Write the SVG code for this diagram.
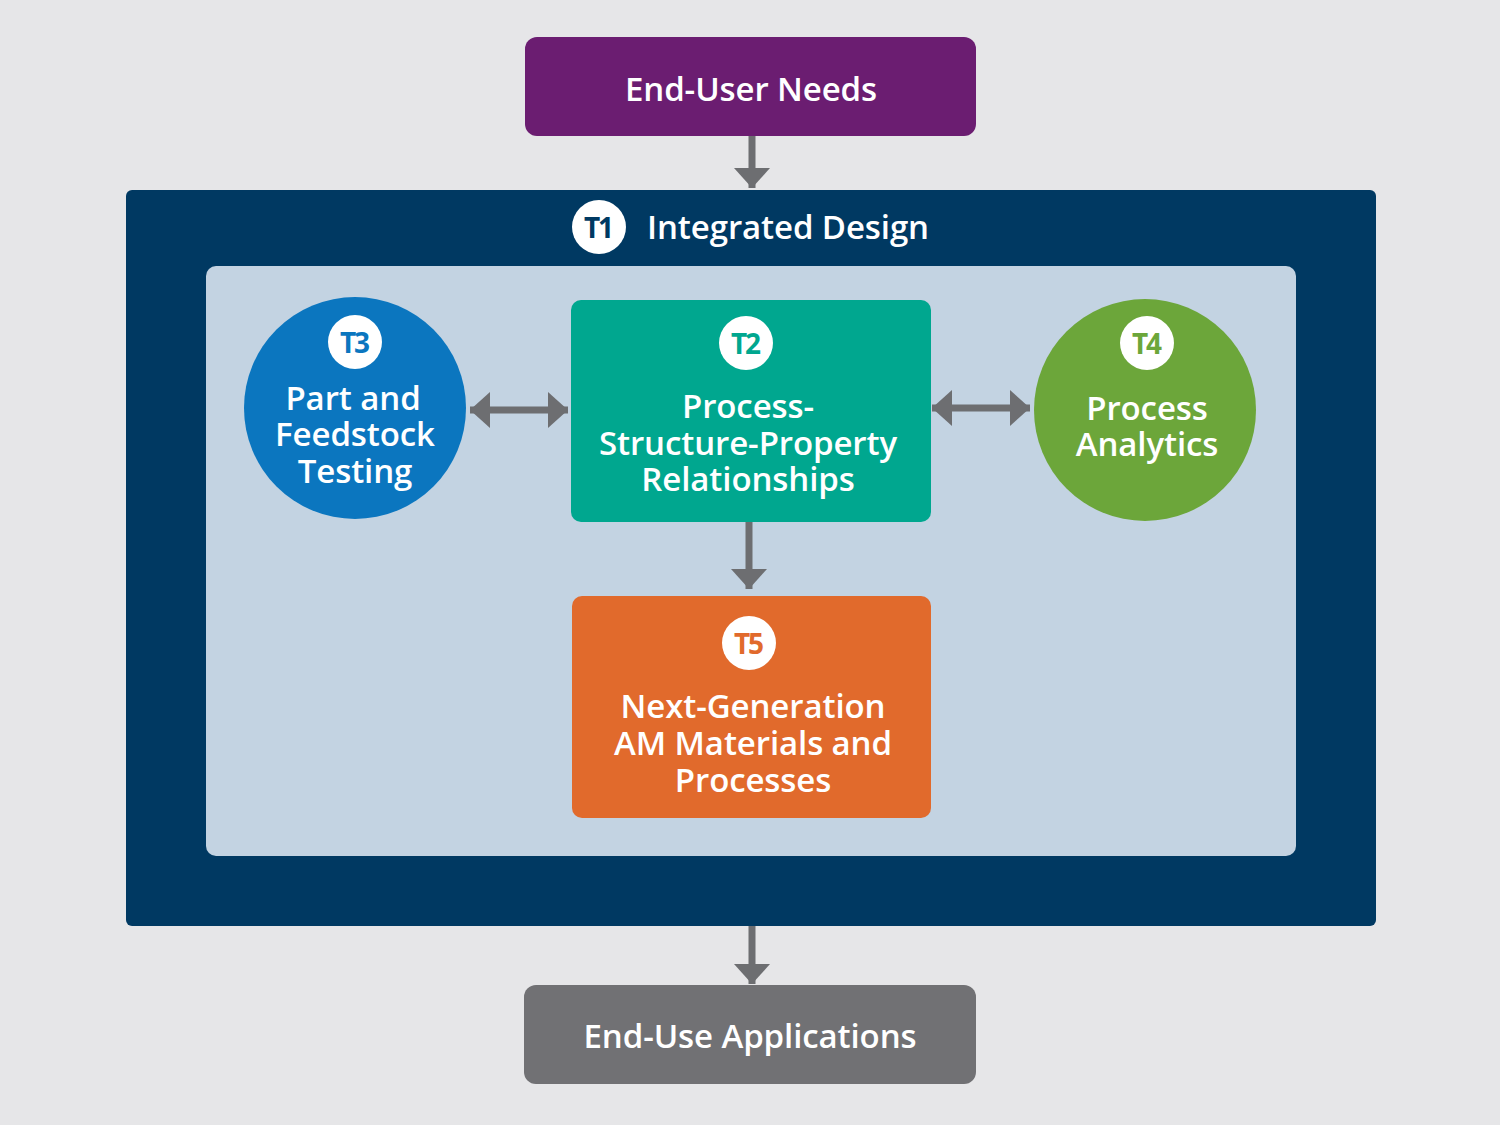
<svg xmlns="http://www.w3.org/2000/svg" width="1500" height="1125" viewBox="0 0 1500 1125">
<style>
.lbl{font-family:"Open Sans","Liberation Sans",sans-serif;font-weight:600;fill:#fff;text-anchor:middle;font-size:33px;letter-spacing:-0.1px}
.bt{font-family:"Open Sans","Liberation Sans",sans-serif;font-weight:700;text-anchor:middle;font-size:28px;letter-spacing:-2px}
.conn{stroke:#6d6e71;stroke-width:7;fill:none}
</style>
<defs>
<marker id="ah" markerUnits="userSpaceOnUse" markerWidth="22" markerHeight="38" refX="20" refY="18" orient="auto-start-reverse" viewBox="0 0 22 38">
<path d="M0,0 L20,18 L0,36 Z" fill="#6d6e71"/>
</marker>
</defs>
<rect width="1500" height="1125" fill="#e6e6e8"/>

<g id="end-user-needs">
<rect x="525" y="37" width="451" height="99" rx="12" fill="#6b1d71"/>
<text class="lbl" x="751" y="101">End-User Needs</text>
</g>

<g id="t1-integrated-design">
<rect x="126" y="190" width="1250" height="736" rx="6" fill="#003962"/>
<circle cx="599" cy="227" r="27" fill="#fff"/>
<text class="bt" x="598" y="238" fill="#003962">T1</text>
<text class="lbl" x="647" y="239" style="text-anchor:start">Integrated Design</text>
<rect x="206" y="266" width="1090" height="590" rx="10" fill="#c3d3e2"/>
</g>

<g id="t3">
<circle cx="355" cy="408" r="111" fill="#0b76bf"/>
<circle cx="355" cy="342" r="27" fill="#fff"/>
<text class="bt" x="354" y="353" fill="#0b76bf">T3</text>
<text class="lbl"><tspan x="353" y="410">Part and</tspan><tspan x="355" y="446">Feedstock</tspan><tspan x="355" y="483">Testing</tspan></text>
</g>

<g id="t2">
<rect x="571" y="300" width="360" height="222" rx="10" fill="#00a78f"/>
<circle cx="746" cy="343" r="27" fill="#fff"/>
<text class="bt" x="745" y="354" fill="#00a78f">T2</text>
<text class="lbl"><tspan x="748" y="418">Process-</tspan><tspan x="748" y="455">Structure-Property</tspan><tspan x="748" y="491">Relationships</tspan></text>
</g>

<g id="t4">
<circle cx="1145" cy="410" r="111" fill="#6ca63a"/>
<circle cx="1147" cy="343" r="27" fill="#fff"/>
<text class="bt" x="1146" y="354" fill="#6ca63a">T4</text>
<text class="lbl"><tspan x="1147" y="420">Process</tspan><tspan x="1147" y="456">Analytics</tspan></text>
</g>

<g id="t5">
<rect x="572" y="596" width="359" height="222" rx="10" fill="#e16a2c"/>
<circle cx="749" cy="643" r="27" fill="#fff"/>
<text class="bt" x="748" y="654" fill="#e16a2c">T5</text>
<text class="lbl"><tspan x="753" y="718">Next-Generation</tspan><tspan x="753" y="755">AM Materials and</tspan><tspan x="753" y="792">Processes</tspan></text>
</g>

<g id="end-use-applications">
<rect x="524" y="985" width="452" height="99" rx="12" fill="#717174"/>
<text class="lbl" x="750" y="1048">End-Use Applications</text>
</g>

<g id="connectors">
<line class="conn" x1="752" y1="136" x2="752" y2="188" marker-end="url(#ah)"/>
<line class="conn" x1="470" y1="410" x2="568" y2="410" marker-start="url(#ah)" marker-end="url(#ah)"/>
<line class="conn" x1="932" y1="408" x2="1030" y2="408" marker-start="url(#ah)" marker-end="url(#ah)"/>
<line class="conn" x1="749" y1="522" x2="749" y2="589" marker-end="url(#ah)"/>
<line class="conn" x1="752" y1="926" x2="752" y2="984" marker-end="url(#ah)"/>
</g>
</svg>
